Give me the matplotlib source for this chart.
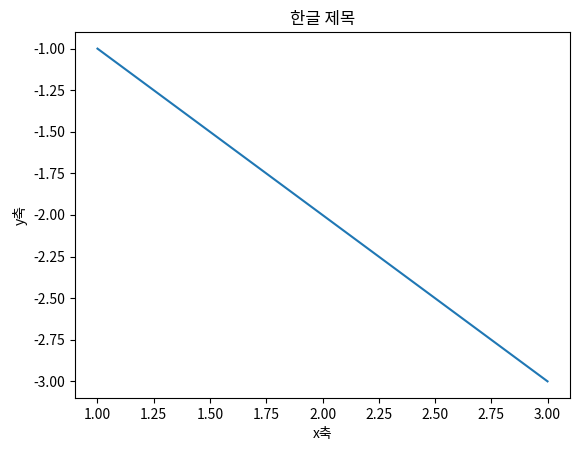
import matplotlib
matplotlib.use("Agg")
import matplotlib.pyplot as plt

plt.rcParams['font.family'] = ['Noto Sans CJK KR', 'DejaVu Sans']
plt.rcParams['axes.unicode_minus'] = False

# 데이터
x = [1, 2, 3]
y = [-1, -2, -3]

fig = plt.figure(figsize=(5.79, 4.55), dpi=100)
ax = fig.add_axes([0.1295, 0.1253, 0.855, 0.8044])
ax.plot(x, y)
ax.set_title("한글 제목")
ax.set_xlabel("x축")
ax.set_ylabel("y축")
fig.savefig("out.png")
